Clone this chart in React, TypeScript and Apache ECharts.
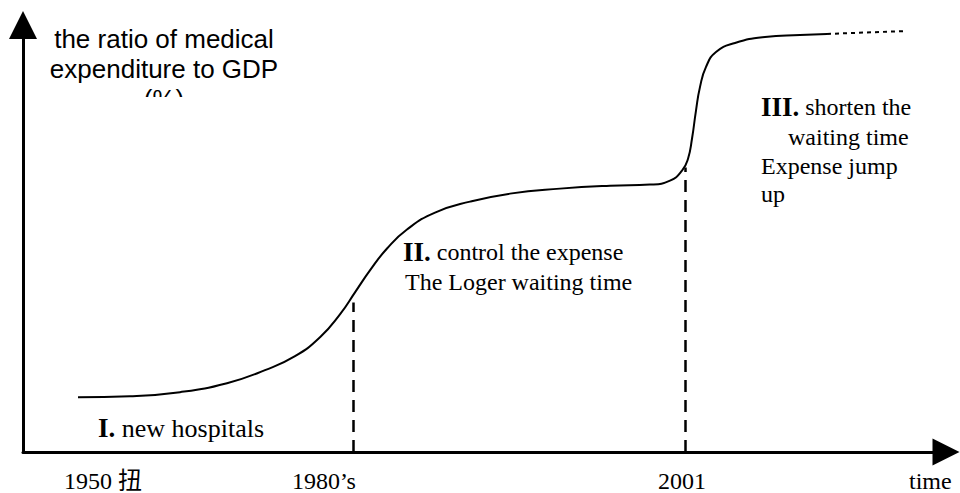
import React, { useEffect, useRef } from "react";
import * as echarts from "echarts";

// Conceptual time index (0-100) and ratio index (0-100)
const curveX = [5.96, 11.59, 17.01, 22.1, 26.22, 29.47, 32.18, 34.34, 35.97, 37.59, 39.44, 41.6, 44.64, 48.43, 52.76, 58.18, 63.6, 67.93, 70.1, 71.4, 72.05, 72.48, 72.91, 73.35, 74.0, 75.08, 77.14, 80.39, 84.18, 87.11];
const curveY = [12.85, 13.08, 14.02, 16.12, 19.16, 22.43, 26.87, 32.24, 37.38, 42.52, 47.66, 52.1, 56.07, 58.64, 60.51, 61.68, 62.38, 62.62, 63.55, 65.89, 68.69, 73.36, 79.91, 85.51, 90.19, 93.69, 95.79, 97.2, 97.66, 97.9];
const tailX = [87.11, 91.44, 95.77];
const tailY = [97.9, 98.25, 98.6];

const phaseX = [35.8, 71.8];
const phaseTop = [35.0, 66.6];

const tickValues = [8.67, 32.6, 71.4, 98.3];
const tickLabels = ["1950 扭", "1980’s", "2001", "time"];

const yTitleLines = ["the ratio of medical", "expenditure to GDP", "(%)"];
const phaseNumerals = ["I.", "II.", "III."];
const phaseTexts = [
  ["new hospitals"],
  ["control the expense", "The Loger waiting time"],
  ["shorten the", "waiting time", "Expense jump", "up"],
];

const SERIF = "'Liberation Serif', 'Times New Roman', 'Noto Sans CJK SC', serif";
const SANS = "'Liberation Sans', Arial, sans-serif";

function serifText(x: number, y: number, text: string, size = 24, bold?: string) {
  const rich = {
    b: { fontFamily: SERIF, fontSize: 27, fontWeight: "bold", fill: "#000" },
    r: { fontFamily: SERIF, fontSize: size, fontWeight: "normal", fill: "#000" },
  };
  return {
    type: "text",
    x,
    y,
    z: 10,
    style: {
      text: bold ? `{b|${bold}}{r| ${text}}` : `{r|${text}}`,
      rich,
      fontFamily: SERIF,
      fontSize: size,
      fill: "#000",
      textAlign: "left",
      textVerticalAlign: "middle",
    },
  };
}

export default function App() {
  const ref = useRef<HTMLDivElement>(null);
  useEffect(() => {
    if (!ref.current) return;
    const chart = echarts.init(ref.current, undefined, { renderer: "svg" });
    const graphic: any[] = [
      ...yTitleLines.map((t, i) => ({
        type: "text",
        x: 164,
        y: 39 + i * 30,
        z: 10,
        style: {
          text: t,
          fontFamily: SANS,
          fontSize: 26,
          fill: "#000",
          textAlign: "center",
          textVerticalAlign: "middle",
        },
      })),
      { type: "rect", x: 120, y: 97, z: 20, shape: { width: 90, height: 24 }, style: { fill: "#fff" } },
      serifText(98, 428, phaseTexts[0][0], 26, phaseNumerals[0]),
      serifText(403, 252, phaseTexts[1][0], 24, phaseNumerals[1]),
      serifText(405, 282, phaseTexts[1][1], 24),
      serifText(761, 107, phaseTexts[2][0], 24, phaseNumerals[2]),
      serifText(788, 137, phaseTexts[2][1], 24),
      serifText(761, 166, phaseTexts[2][2], 24),
      serifText(761, 194, phaseTexts[2][3], 24),
    ];
    chart.setOption({
      animation: false,
      backgroundColor: "#fff",
      grid: { left: 23, right: 14, top: 25, bottom: 41, containLabel: false },
      xAxis: {
        type: "value",
        min: 0,
        max: 100,
        splitLine: { show: false },
        axisTick: { show: false },
        axisLine: {
          show: true,
          symbol: ["none", "triangle"],
          symbolSize: [27, 27],
          lineStyle: { color: "#000", width: 3 },
        },
        axisLabel: {
          show: true,
          customValues: tickValues,
          formatter: (v: number) => {
            const i = tickValues.findIndex((t) => Math.abs(t - v) < 1e-6);
            return i >= 0 ? tickLabels[i] : "";
          },
          margin: 17,
          color: "#000",
          fontFamily: SERIF,
          fontSize: 24,
        },
      },
      yAxis: {
        type: "value",
        min: 0,
        max: 100,
        splitLine: { show: false },
        axisTick: { show: false },
        axisLabel: { show: false },
        axisLine: {
          show: true,
          symbol: ["none", "triangle"],
          symbolSize: [28, 28],
          lineStyle: { color: "#000", width: 3 },
        },
      },
      graphic,
      series: [
        {
          type: "line",
          data: curveX.map((x, i) => [x, curveY[i]]),
          smooth: 0.5,
          showSymbol: false,
          lineStyle: { color: "#000", width: 2 },
          markLine: {
            silent: true,
            symbol: ["none", "none"],
            label: { show: false },
            lineStyle: { color: "#000", width: 2.5, type: [12, 8] },
            data: phaseX.map((x, i) => [{ coord: [x, 0] }, { coord: [x, phaseTop[i]] }]),
          },
        },
        {
          type: "line",
          data: tailX.map((x, i) => [x, tailY[i]]),
          showSymbol: false,
          lineStyle: { color: "#000", width: 2, type: [4, 4] },
        },
      ],
    });
    return () => chart.dispose();
  }, []);
  return (
    <div
      ref={ref}
      style={{ position: "fixed", left: 0, top: 0, width: 960, height: 493, background: "#fff" }}
    />
  );
}
